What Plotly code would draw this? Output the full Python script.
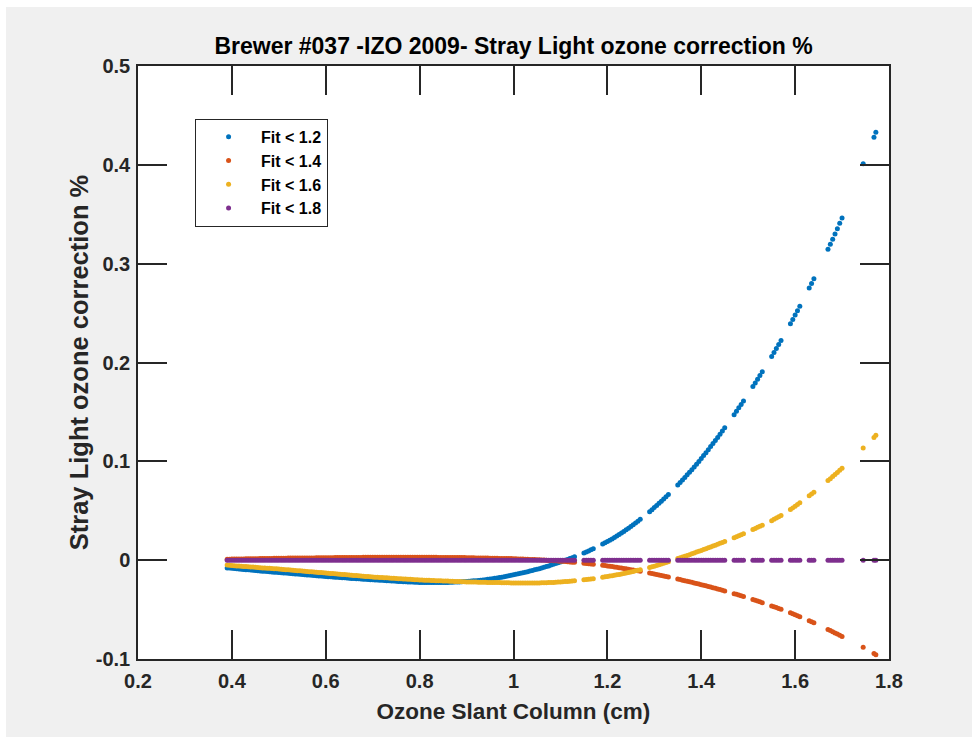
import plotly.graph_objects as go

# Ozone slant column (cm) of each observation, shared by all four fits
ozone_slant_cm = [
    0.39, 0.395, 0.40, 0.405, 0.41, 0.415, 0.42, 0.425, 0.43, 0.435,
    0.44, 0.445, 0.45, 0.455, 0.46, 0.465, 0.47, 0.475, 0.48, 0.485,
    0.49, 0.495, 0.50, 0.505, 0.51, 0.515, 0.52, 0.525, 0.53, 0.535,
    0.54, 0.545, 0.55, 0.555, 0.56, 0.565, 0.57, 0.575, 0.58, 0.585,
    0.59, 0.595, 0.60, 0.605, 0.61, 0.615, 0.62, 0.625, 0.63, 0.635,
    0.64, 0.645, 0.65, 0.655, 0.66, 0.665, 0.67, 0.675, 0.68, 0.685,
    0.69, 0.695, 0.70, 0.705, 0.71, 0.715, 0.72, 0.725, 0.73, 0.735,
    0.74, 0.745, 0.75, 0.755, 0.76, 0.765, 0.77, 0.775, 0.78, 0.785,
    0.79, 0.795, 0.80, 0.805, 0.81, 0.815, 0.82, 0.825, 0.83, 0.835,
    0.84, 0.845, 0.85, 0.855, 0.86, 0.865, 0.87, 0.875, 0.88, 0.885,
    0.89, 0.895, 0.90, 0.905, 0.91, 0.915, 0.92, 0.925, 0.93, 0.935,
    0.94, 0.945, 0.95, 0.955, 0.96, 0.965, 0.97, 0.975, 0.98, 0.985,
    0.99, 0.995, 1.00, 1.005, 1.01, 1.015, 1.02, 1.025, 1.03, 1.035,
    1.04, 1.045, 1.05, 1.055, 1.06, 1.065, 1.07, 1.075, 1.08, 1.085,
    1.09, 1.095, 1.10, 1.105, 1.11, 1.115, 1.12, 1.125, 1.13,
    1.15, 1.155, 1.16, 1.165, 1.17,
    1.19, 1.195, 1.20, 1.205, 1.21, 1.215, 1.22, 1.225, 1.23, 1.235,
    1.24, 1.245, 1.25, 1.255, 1.26, 1.265, 1.27,
    1.29, 1.295, 1.30, 1.305, 1.31, 1.315, 1.32, 1.325, 1.33,
    1.35, 1.355, 1.36, 1.365, 1.37, 1.375, 1.38, 1.385, 1.39, 1.395,
    1.40, 1.405, 1.41, 1.415, 1.42, 1.425, 1.43, 1.435, 1.44, 1.445, 1.45,
    1.47, 1.475, 1.48, 1.485, 1.49,
    1.51, 1.515, 1.52, 1.525, 1.53,
    1.55, 1.555, 1.56, 1.565, 1.57,
    1.59, 1.595, 1.60, 1.605, 1.61,
    1.63, 1.635, 1.64,
    1.67, 1.675, 1.68, 1.685, 1.69, 1.695, 1.70,
    1.745, 1.768, 1.772,
]

# Stray light ozone correction (%) for each fit limit
fit_lt_1_2 = [
    -0.0078, -0.0080, -0.0082, -0.0085, -0.0087, -0.0089, -0.0091, -0.0094, -0.0096, -0.0098,
    -0.0100, -0.0102, -0.0104, -0.0107, -0.0109, -0.0111, -0.0113, -0.0115, -0.0117, -0.0119,
    -0.0121, -0.0123, -0.0125, -0.0127, -0.0129, -0.0131, -0.0133, -0.0135, -0.0137, -0.0139,
    -0.0141, -0.0143, -0.0145, -0.0147, -0.0149, -0.0151, -0.0153, -0.0155, -0.0157, -0.0159,
    -0.0161, -0.0163, -0.0165, -0.0167, -0.0169, -0.0171, -0.0172, -0.0174, -0.0176, -0.0178,
    -0.0179, -0.0181, -0.0183, -0.0185, -0.0186, -0.0188, -0.0189, -0.0191, -0.0192, -0.0194,
    -0.0195, -0.0197, -0.0198, -0.0200, -0.0201, -0.0203, -0.0204, -0.0206, -0.0207, -0.0209,
    -0.0210, -0.0212, -0.0213, -0.0215, -0.0216, -0.0218, -0.0219, -0.0220, -0.0221, -0.0222,
    -0.0223, -0.0224, -0.0225, -0.0226, -0.0226, -0.0227, -0.0227, -0.0227, -0.0227, -0.0227,
    -0.0227, -0.0227, -0.0226, -0.0226, -0.0225, -0.0224, -0.0223, -0.0222, -0.0221, -0.0220,
    -0.0218, -0.0217, -0.0215, -0.0213, -0.0211, -0.0209, -0.0207, -0.0205, -0.0202, -0.0200,
    -0.0197, -0.0194, -0.0191, -0.0188, -0.0184, -0.0180, -0.0176, -0.0172, -0.0167, -0.0163,
    -0.0158, -0.0153, -0.0148, -0.0143, -0.0138, -0.0133, -0.0127, -0.0122, -0.0116, -0.0110,
    -0.0104, -0.0098, -0.0092, -0.0086, -0.0079, -0.0072, -0.0065, -0.0058, -0.0050, -0.0042,
    -0.0034, -0.0026, -0.0018, -0.0010, -0.0001, 0.0007, 0.0016, 0.0025, 0.0034,
    0.0073, 0.0083, 0.0094, 0.0105, 0.0116,
    0.0163, 0.0175, 0.0188, 0.0201, 0.0215, 0.0229, 0.0244, 0.0259, 0.0275, 0.0291,
    0.0307, 0.0324, 0.0341, 0.0358, 0.0376, 0.0394, 0.0413,
    0.0491, 0.0511, 0.0532, 0.0553, 0.0575, 0.0597, 0.0619, 0.0642, 0.0665,
    0.0761, 0.0786, 0.0811, 0.0837, 0.0863, 0.0889, 0.0916, 0.0943, 0.0971, 0.0999,
    0.1028, 0.1058, 0.1088, 0.1118, 0.1149, 0.1180, 0.1211, 0.1242, 0.1274, 0.1306, 0.1339,
    0.1472, 0.1506, 0.1541, 0.1576, 0.1611,
    0.1756, 0.1793, 0.1830, 0.1868, 0.1906,
    0.2061, 0.2101, 0.2141, 0.2182, 0.2223,
    0.2393, 0.2436, 0.2480, 0.2524, 0.2569,
    0.2753, 0.2800, 0.2848,
    0.3145, 0.3196, 0.3248, 0.3301, 0.3354, 0.3408, 0.3462,
    0.4010, 0.4280, 0.4330,
]

fit_lt_1_4 = [
    0.0010, 0.0010, 0.0011, 0.0011, 0.0012, 0.0012, 0.0013, 0.0013, 0.0014, 0.0014,
    0.0015, 0.0015, 0.0015, 0.0015, 0.0016, 0.0016, 0.0017, 0.0017, 0.0018, 0.0018,
    0.0019, 0.0019, 0.0020, 0.0020, 0.0020, 0.0020, 0.0021, 0.0021, 0.0021, 0.0021,
    0.0022, 0.0022, 0.0022, 0.0022, 0.0023, 0.0023, 0.0023, 0.0023, 0.0024, 0.0024,
    0.0024, 0.0024, 0.0025, 0.0025, 0.0025, 0.0025, 0.0026, 0.0026, 0.0026, 0.0026,
    0.0027, 0.0027, 0.0027, 0.0027, 0.0028, 0.0028, 0.0028, 0.0028, 0.0029, 0.0029,
    0.0029, 0.0029, 0.0030, 0.0030, 0.0030, 0.0030, 0.0030, 0.0030, 0.0030, 0.0030,
    0.0030, 0.0030, 0.0030, 0.0030, 0.0030, 0.0030, 0.0030, 0.0030, 0.0030, 0.0030,
    0.0030, 0.0030, 0.0030, 0.0030, 0.0030, 0.0030, 0.0029, 0.0029, 0.0029, 0.0029,
    0.0028, 0.0028, 0.0028, 0.0028, 0.0027, 0.0027, 0.0027, 0.0027, 0.0026, 0.0026,
    0.0026, 0.0026, 0.0025, 0.0025, 0.0024, 0.0024, 0.0023, 0.0023, 0.0022, 0.0022,
    0.0021, 0.0021, 0.0020, 0.0020, 0.0019, 0.0019, 0.0018, 0.0018, 0.0017, 0.0017,
    0.0016, 0.0016, 0.0015, 0.0014, 0.0013, 0.0012, 0.0011, 0.0010, 0.0009, 0.0008,
    0.0007, 0.0006, 0.0005, 0.0004, 0.0002, 0.0001, -0.0001, -0.0003, -0.0004, -0.0006,
    -0.0007, -0.0009, -0.0010, -0.0012, -0.0014, -0.0016, -0.0018, -0.0020, -0.0022,
    -0.0031, -0.0033, -0.0036, -0.0038, -0.0041,
    -0.0052, -0.0055, -0.0058, -0.0061, -0.0065, -0.0068, -0.0072, -0.0076, -0.0080, -0.0084,
    -0.0088, -0.0092, -0.0096, -0.0100, -0.0104, -0.0108, -0.0113,
    -0.0131, -0.0135, -0.0140, -0.0145, -0.0150, -0.0155, -0.0160, -0.0165, -0.0170,
    -0.0191, -0.0196, -0.0202, -0.0207, -0.0213, -0.0218, -0.0224, -0.0230, -0.0236, -0.0242,
    -0.0248, -0.0254, -0.0260, -0.0266, -0.0272, -0.0278, -0.0285, -0.0291, -0.0298, -0.0304, -0.0311,
    -0.0339, -0.0346, -0.0353, -0.0360, -0.0368,
    -0.0398, -0.0406, -0.0414, -0.0422, -0.0430,
    -0.0463, -0.0471, -0.0480, -0.0488, -0.0497,
    -0.0533, -0.0542, -0.0552, -0.0562, -0.0572,
    -0.0613, -0.0623, -0.0634,
    -0.0701, -0.0712, -0.0724, -0.0736, -0.0748, -0.0760, -0.0772,
    -0.0880, -0.0945, -0.0958,
]

fit_lt_1_6 = [
    -0.0050, -0.0052, -0.0054, -0.0056, -0.0058, -0.0060, -0.0061, -0.0063, -0.0065, -0.0067,
    -0.0068, -0.0070, -0.0072, -0.0074, -0.0076, -0.0078, -0.0079, -0.0081, -0.0083, -0.0085,
    -0.0086, -0.0088, -0.0090, -0.0092, -0.0094, -0.0096, -0.0098, -0.0100, -0.0102, -0.0104,
    -0.0106, -0.0108, -0.0110, -0.0112, -0.0114, -0.0116, -0.0118, -0.0120, -0.0122, -0.0124,
    -0.0126, -0.0128, -0.0130, -0.0132, -0.0134, -0.0136, -0.0138, -0.0140, -0.0142, -0.0144,
    -0.0146, -0.0148, -0.0150, -0.0152, -0.0154, -0.0156, -0.0158, -0.0160, -0.0162, -0.0164,
    -0.0166, -0.0168, -0.0170, -0.0172, -0.0173, -0.0175, -0.0176, -0.0178, -0.0179, -0.0181,
    -0.0182, -0.0184, -0.0185, -0.0187, -0.0188, -0.0190, -0.0191, -0.0193, -0.0194, -0.0196,
    -0.0197, -0.0199, -0.0200, -0.0201, -0.0202, -0.0203, -0.0204, -0.0205, -0.0206, -0.0207,
    -0.0208, -0.0209, -0.0210, -0.0211, -0.0212, -0.0213, -0.0214, -0.0215, -0.0216, -0.0217,
    -0.0218, -0.0219, -0.0220, -0.0221, -0.0221, -0.0222, -0.0222, -0.0223, -0.0223, -0.0224,
    -0.0224, -0.0225, -0.0225, -0.0226, -0.0226, -0.0227, -0.0227, -0.0228, -0.0228, -0.0229,
    -0.0229, -0.0230, -0.0230, -0.0230, -0.0230, -0.0231, -0.0231, -0.0231, -0.0231, -0.0231,
    -0.0231, -0.0231, -0.0230, -0.0230, -0.0229, -0.0229, -0.0228, -0.0227, -0.0226, -0.0225,
    -0.0223, -0.0222, -0.0220, -0.0219, -0.0217, -0.0215, -0.0213, -0.0211, -0.0209,
    -0.0199, -0.0196, -0.0193, -0.0190, -0.0187,
    -0.0173, -0.0169, -0.0165, -0.0161, -0.0157, -0.0153, -0.0148, -0.0144, -0.0139, -0.0134,
    -0.0129, -0.0124, -0.0119, -0.0114, -0.0108, -0.0103, -0.0097,
    -0.0073, -0.0067, -0.0061, -0.0054, -0.0047, -0.0040, -0.0032, -0.0024, -0.0016,
    0.0016, 0.0024, 0.0032, 0.0040, 0.0048, 0.0056, 0.0065, 0.0073, 0.0082, 0.0090,
    0.0099, 0.0107, 0.0116, 0.0125, 0.0134, 0.0143, 0.0152, 0.0161, 0.0170, 0.0180, 0.0189,
    0.0228, 0.0238, 0.0248, 0.0258, 0.0268,
    0.0310, 0.0321, 0.0332, 0.0343, 0.0354,
    0.0400, 0.0413, 0.0426, 0.0439, 0.0453,
    0.0513, 0.0529, 0.0546, 0.0563, 0.0580,
    0.0651, 0.0669, 0.0688,
    0.0805, 0.0825, 0.0846, 0.0867, 0.0888, 0.0909, 0.0931,
    0.1134, 0.1240, 0.1265,
]

fit_lt_1_8 = [
    0.0, 0.0, 0.0, 0.0, 0.0, 0.0, 0.0, 0.0, 0.0, 0.0,
    0.0, 0.0, 0.0, 0.0, 0.0, 0.0, 0.0, 0.0, 0.0, 0.0,
    0.0, 0.0, 0.0, 0.0, 0.0, 0.0, 0.0, 0.0, 0.0, 0.0,
    0.0, 0.0, 0.0, 0.0, 0.0, 0.0, 0.0, 0.0, 0.0, 0.0,
    0.0, 0.0, 0.0, 0.0, 0.0, 0.0, 0.0, 0.0, 0.0, 0.0,
    0.0, 0.0, 0.0, 0.0, 0.0, 0.0, 0.0, 0.0, 0.0, 0.0,
    0.0, 0.0, 0.0, 0.0, 0.0, 0.0, 0.0, 0.0, 0.0, 0.0,
    0.0, 0.0, 0.0, 0.0, 0.0, 0.0, 0.0, 0.0, 0.0, 0.0,
    0.0, 0.0, 0.0, 0.0, 0.0, 0.0, 0.0, 0.0, 0.0, 0.0,
    0.0, 0.0, 0.0, 0.0, 0.0, 0.0, 0.0, 0.0, 0.0, 0.0,
    0.0, 0.0, 0.0, 0.0, 0.0, 0.0, 0.0, 0.0, 0.0, 0.0,
    0.0, 0.0, 0.0, 0.0, 0.0, 0.0, 0.0, 0.0, 0.0, 0.0,
    0.0, 0.0, 0.0, 0.0, 0.0, 0.0, 0.0, 0.0, 0.0, 0.0,
    0.0, 0.0, 0.0, 0.0, 0.0, 0.0, 0.0, 0.0, 0.0, 0.0,
    0.0, 0.0, 0.0, 0.0, 0.0, 0.0, 0.0, 0.0, 0.0,
    0.0, 0.0, 0.0, 0.0, 0.0,
    0.0, 0.0, 0.0, 0.0, 0.0, 0.0, 0.0, 0.0, 0.0, 0.0,
    0.0, 0.0, 0.0, 0.0, 0.0, 0.0, 0.0,
    0.0, 0.0, 0.0, 0.0, 0.0, 0.0, 0.0, 0.0, 0.0,
    0.0, 0.0, 0.0, 0.0, 0.0, 0.0, 0.0, 0.0, 0.0, 0.0,
    0.0, 0.0, 0.0, 0.0, 0.0, 0.0, 0.0, 0.0, 0.0, 0.0, 0.0,
    0.0, 0.0, 0.0, 0.0, 0.0,
    0.0, 0.0, 0.0, 0.0, 0.0,
    0.0, 0.0, 0.0, 0.0, 0.0,
    0.0, 0.0, 0.0, 0.0, 0.0,
    0.0, 0.0, 0.0,
    0.0, 0.0, 0.0, 0.0, 0.0, 0.0, 0.0,
    0.0, 0.0, 0.0,
]

series_names = ["Fit < 1.2", "Fit < 1.4", "Fit < 1.6", "Fit < 1.8"]
series_values = [fit_lt_1_2, fit_lt_1_4, fit_lt_1_6, fit_lt_1_8]
series_colors = ["#0072BD", "#D95319", "#EDB120", "#7E2F8E"]

x_tick_vals = [0.2, 0.4, 0.6, 0.8, 1.0, 1.2, 1.4, 1.6, 1.8]
x_tick_text = ["0.2", "0.4", "0.6", "0.8", "1", "1.2", "1.4", "1.6", "1.8"]
y_tick_vals = [-0.1, 0.0, 0.1, 0.2, 0.3, 0.4, 0.5]
y_tick_text = ["-0.1", "0", "0.1", "0.2", "0.3", "0.4", "0.5"]

for vals in series_values:
    assert len(vals) == len(ozone_slant_cm), (len(vals), len(ozone_slant_cm))

FONT = "Liberation Sans, Arial, Helvetica, sans-serif"
INK = "#262626"

fig = go.Figure()
for name, vals, color in zip(series_names, series_values, series_colors):
    fig.add_trace(go.Scatter(
        x=ozone_slant_cm, y=vals, name=name, mode="markers",
        marker=dict(size=5, color=color, line=dict(width=0)),
    ))

axis_common = dict(
    ticks="inside", ticklen=29, tickwidth=1.5, tickcolor=INK,
    showline=True, linecolor=INK, linewidth=1.5, mirror="allticks",
    showgrid=False, zeroline=False,
    tickfont=dict(family=FONT, size=20, color=INK, weight="bold"),
)

fig.update_layout(
    width=972, height=737,
    margin=dict(l=138, r=83, t=66, b=78, pad=0),
    paper_bgcolor="#f0f0f0", plot_bgcolor="white",
    showlegend=True,
    title=dict(
        text="Brewer #037 -IZO 2009- Stray Light ozone correction %",
        x=0.5, xref="paper", xanchor="center",
        y=0.937, yref="container", yanchor="middle",
        font=dict(family=FONT, size=23, color="black", weight="bold"),
    ),
    xaxis=dict(
        range=[0.2, 1.8], tickvals=x_tick_vals, ticktext=x_tick_text,
        ticklabelstandoff=3,
        title=dict(text="Ozone Slant Column (cm)", standoff=12,
                   font=dict(family=FONT, size=22.5, color=INK, weight="bold")),
        **axis_common,
    ),
    yaxis=dict(
        range=[-0.1, 0.5], tickvals=y_tick_vals, ticktext=y_tick_text,
        ticklabelstandoff=2,
        title=dict(text="Stray Light ozone correction %", standoff=0,
                   font=dict(family=FONT, size=25.5, color=INK, weight="bold")),
        **axis_common,
    ),
    legend=dict(
        x=0.076, y=0.911, xanchor="left", yanchor="top",
        bgcolor="white", bordercolor=INK, borderwidth=1,
        font=dict(family=FONT, size=16, color="black", weight="bold"),
        itemwidth=55,
    ),
    shapes=[
        # thin white frame strips along the top and left edges of the canvas
        dict(type="rect", xref="paper", yref="paper", x0=-0.3, x1=1.3,
             y0=1.0995, y1=1.3, fillcolor="white", line=dict(width=0), layer="below"),
        dict(type="rect", xref="paper", yref="paper", x0=-0.3, x1=-0.1758,
             y0=-0.3, y1=1.3, fillcolor="white", line=dict(width=0), layer="below"),
    ],
)

fig.write_html("out.html")
